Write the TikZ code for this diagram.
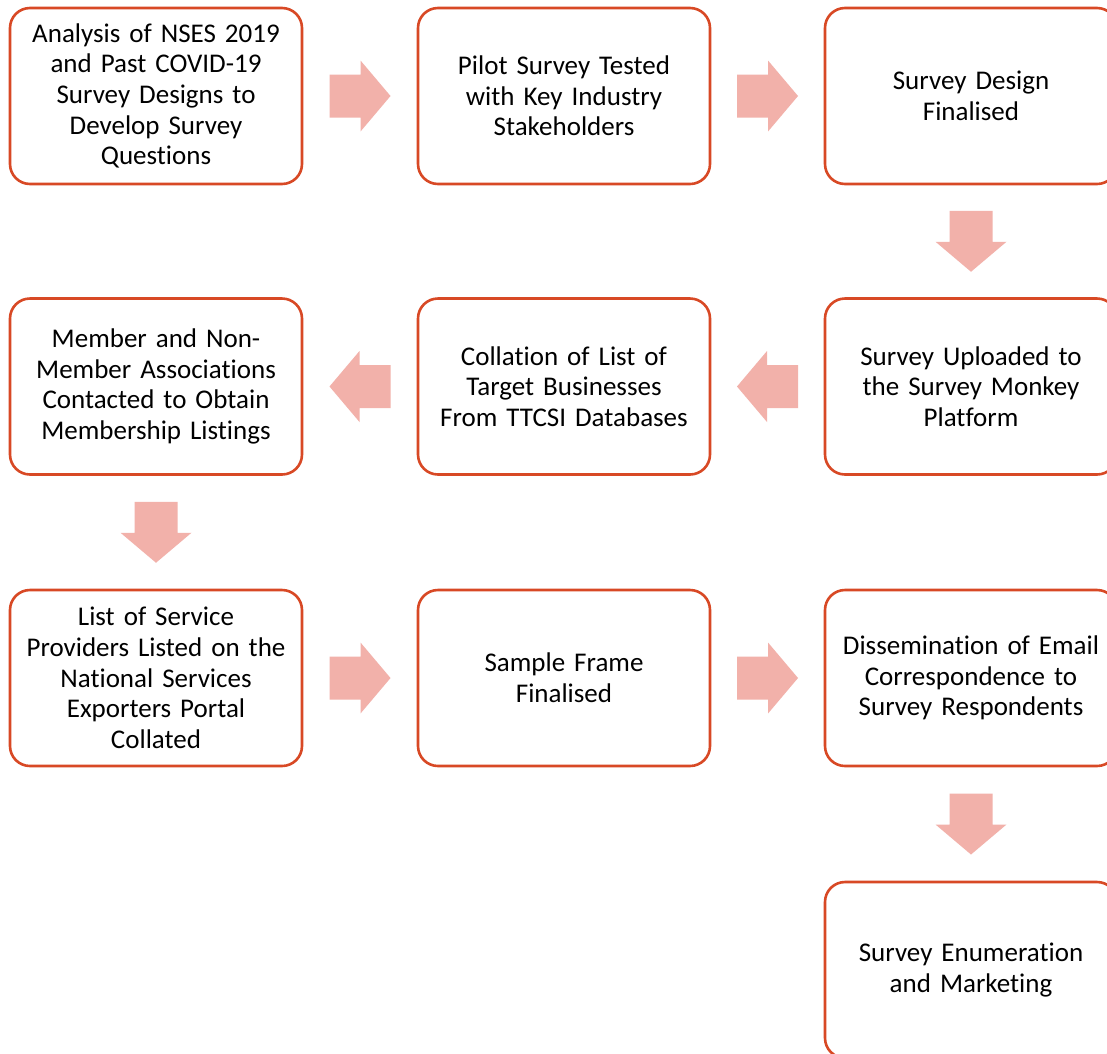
\documentclass[tikz,border=0pt]{standalone}
\usepackage{fontspec}
\setmainfont{Carlito}[Ligatures={NoCommon,NoRare,NoContextual}]
\usetikzlibrary{calc}
\definecolor{bordercol}{RGB}{216,73,37}
\definecolor{arrowcol}{RGB}{242,177,170}
\begin{document}
\begin{tikzpicture}[x=1pt,y=-1pt,
  box/.style={draw=bordercol, line width=2.6pt, rounded corners=20pt,
    minimum width=292pt, minimum height=176pt, inner sep=0pt,
    align=center, text width=290pt, font=\fontsize{27}{30.7}\selectfont},
  rarrow/.pic={\fill[arrowcol] (-30.5,-21.5) -- (0.5,-21.5) -- (0.5,-35.5) -- (30.5,0) -- (0.5,35.5) -- (0.5,21.5) -- (-30.5,21.5) -- cycle;},
  larrow/.pic={\fill[arrowcol] (30.5,-21.5) -- (-0.5,-21.5) -- (-0.5,-35.5) -- (-30.5,0) -- (-0.5,35.5) -- (-0.5,21.5) -- (30.5,21.5) -- cycle;},
  darrow/.pic={\fill[arrowcol] (-21.5,-30.5) -- (-21.5,0.5) -- (-35.5,0.5) -- (0,30.5) -- (35.5,0.5) -- (21.5,0.5) -- (21.5,-30.5) -- cycle;}
]
\useasboundingbox (0,0) rectangle (1107,1053);
\clip (0,0) rectangle (1107,1053);
\fill[white] (0,0) rectangle (1107,1053);
% row 1
\node[box] (a1) at (156,96) {Analysis of NSES 2019\\and Past COVID-19\\Survey Designs to\\Develop Survey\\Questions};
\node[box] (a2) at (564,96) {Pilot Survey Tested\\with Key Industry\\Stakeholders};
\node[box] (a3) at (971,96) {Survey Design\\Finalised};
% row 2
\node[box] (b3) at (971,386.5) {Survey Uploaded to\\the Survey Monkey\\Platform};
\node[box] (b2) at (564,386.5) {Collation of List of\\Target Businesses\\From TTCSI Databases};
\node[box] (b1) at (156,386.5) {Member and Non-\\Member Associations\\Contacted to Obtain\\Membership Listings};
% row 3
\node[box] (c1) at (156,678) {List of Service\\Providers Listed on the\\National Services\\Exporters Portal\\Collated};
\node[box] (c2) at (564,678) {Sample Frame\\Finalised};
\node[box] (c3) at (971,678) {Dissemination of Email\\Correspondence to\\Survey Respondents};
% row 4
\node[box] (d3) at (971,970) {Survey Enumeration\\and Marketing};
% arrows
\pic at ($(a1.east)!0.5!(a2.west)$) {rarrow};
\pic at ($(a2.east)!0.5!(a3.west)$) {rarrow};
\pic at ($(a3.south)!0.5!(b3.north)$) {darrow};
\pic at ($(b3.west)!0.5!(b2.east)$) {larrow};
\pic at ($(b2.west)!0.5!(b1.east)$) {larrow};
\pic at ($(b1.south)!0.5!(c1.north)$) {darrow};
\pic at ($(c1.east)!0.5!(c2.west)$) {rarrow};
\pic at ($(c2.east)!0.5!(c3.west)$) {rarrow};
\pic at ($(c3.south)!0.5!(d3.north)$) {darrow};
\end{tikzpicture}
\end{document}
